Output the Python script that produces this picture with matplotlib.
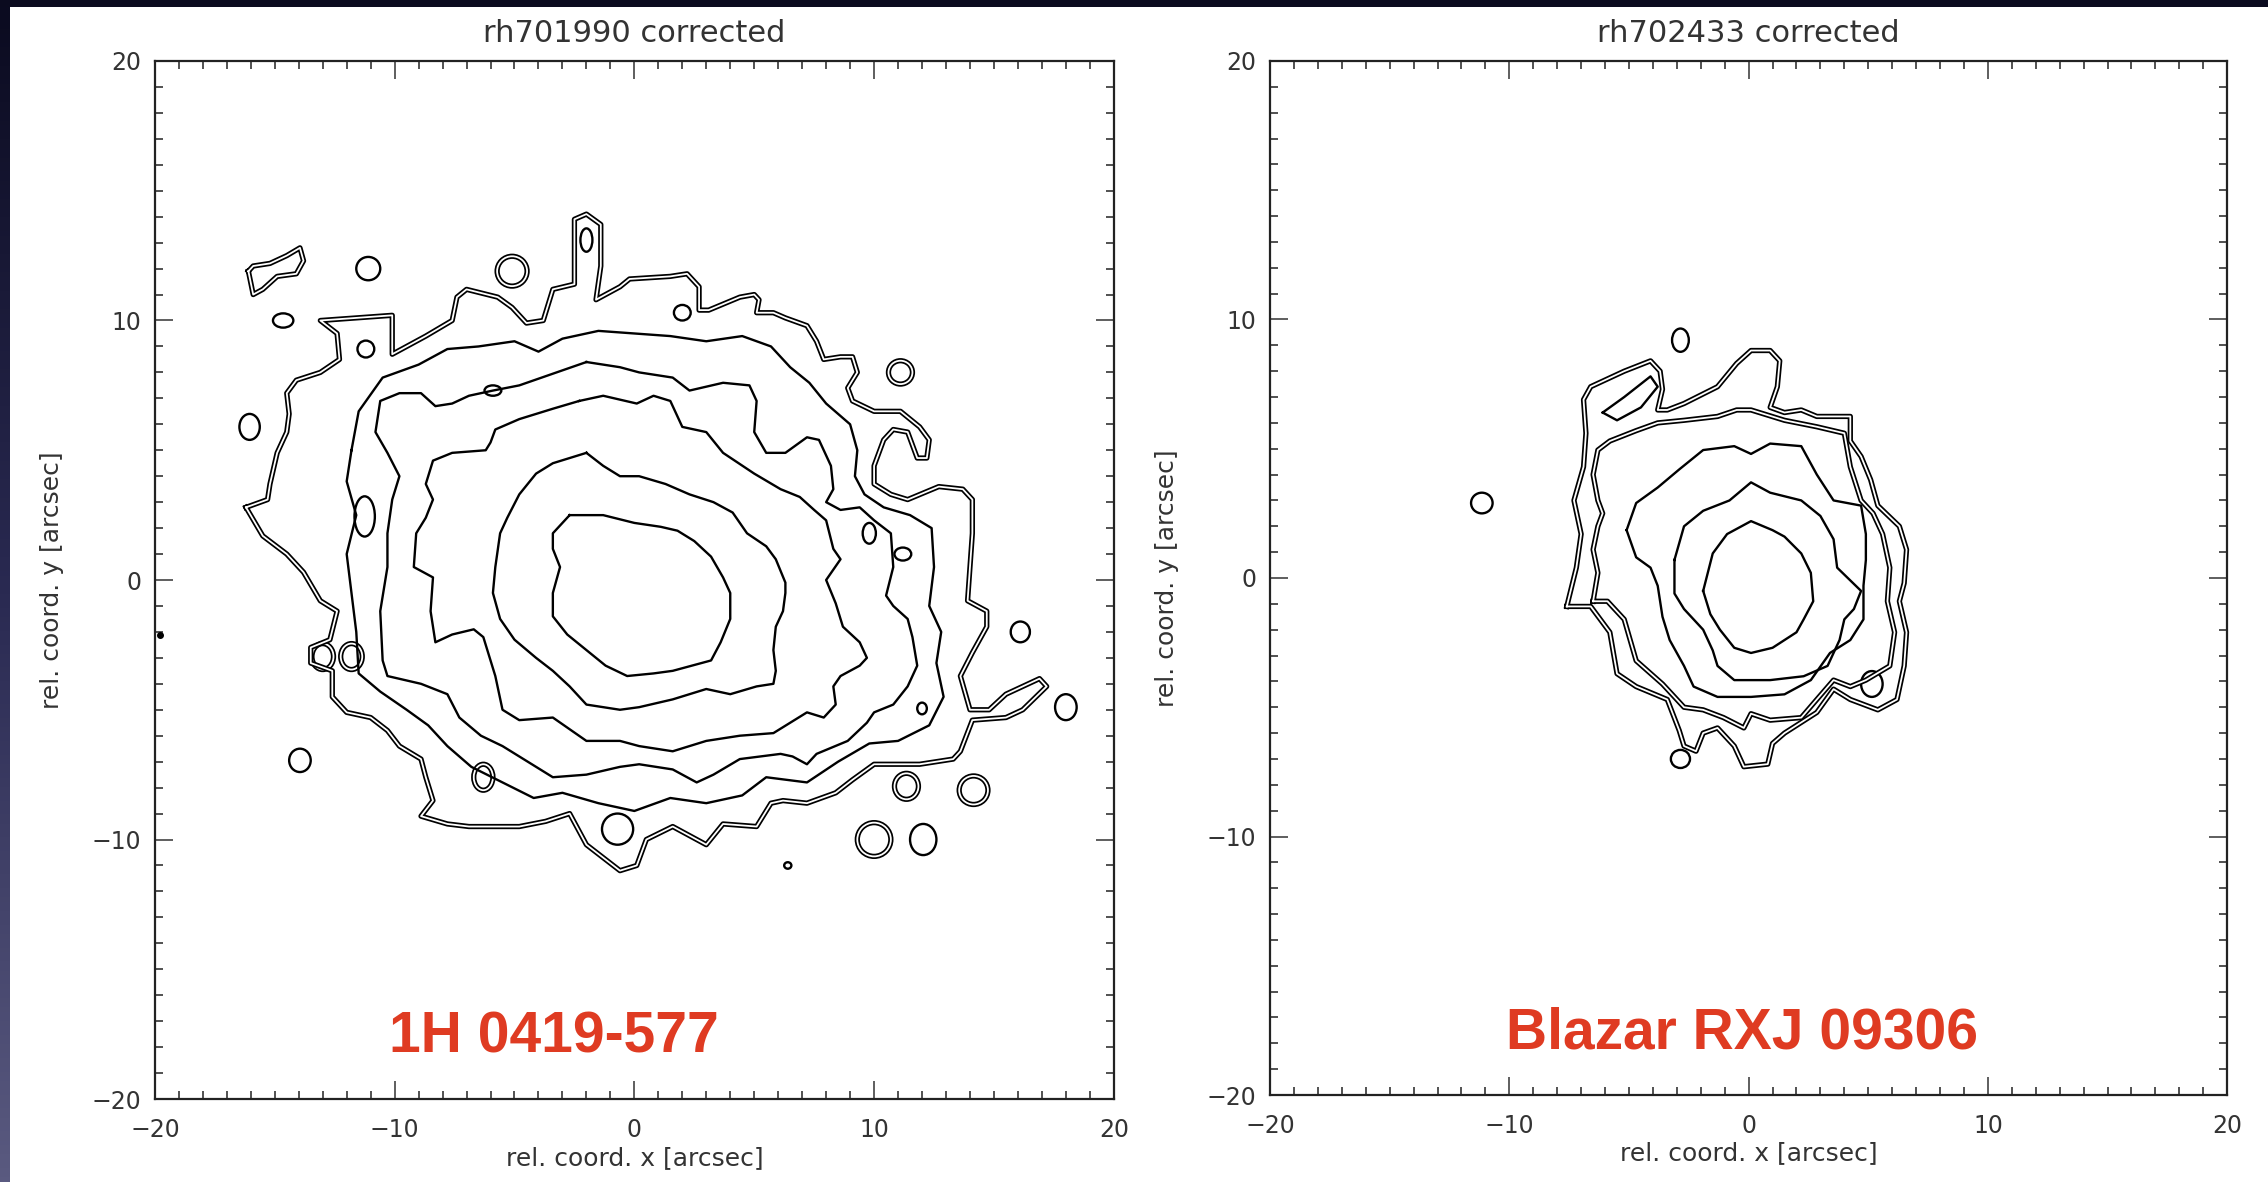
import numpy as np
import matplotlib.pyplot as plt
from matplotlib.patches import Ellipse, Rectangle
from matplotlib.colors import LinearSegmentedColormap

# Surface brightness contours, relative coordinates in arcsec.
# Each contour is a closed loop of (x, y) vertices.

# ---- rh701990 (1H 0419-577) ----
LEFT_C5 = [(-2.7, 2.5), (-1.3, 2.5), (0.0, 2.2), (1.1, 2.05), (1.8, 1.9), (2.5, 1.5),
           (3.2, 0.9), (3.7, 0.1), (4.0, -0.5), (4.0, -1.5), (3.6, -2.4), (3.2, -3.1),
           (1.6, -3.5), (0.8, -3.6), (-0.3, -3.7), (-1.2, -3.3), (-2.0, -2.7), (-2.8, -2.1),
           (-3.4, -1.4), (-3.4, -0.5), (-3.1, 0.5), (-3.4, 1.2), (-3.4, 1.8)]

LEFT_C4 = [(-2.0, 4.9), (-1.3, 4.4), (-0.6, 4.0), (0.2, 4.0), (1.3, 3.7), (2.3, 3.3),
           (3.3, 3.0), (4.1, 2.6), (4.7, 1.8), (5.5, 1.3), (5.9, 0.8), (6.3, -0.1),
           (6.3, -0.5), (6.2, -1.2), (5.9, -1.8), (5.8, -2.7), (5.9, -3.5), (5.8, -4.0),
           (5.1, -4.1), (4.0, -4.4), (3.0, -4.2), (1.6, -4.6), (0.2, -4.9), (-0.6, -5.0),
           (-2.0, -4.8), (-2.7, -4.1), (-3.4, -3.5), (-4.1, -3.0), (-5.0, -2.3), (-5.6, -1.5),
           (-5.9, -0.5), (-5.8, 0.5), (-5.6, 1.8), (-5.3, 2.4), (-4.8, 3.3), (-4.1, 4.1),
           (-3.4, 4.5)]

LEFT_C3 = [(-2.3, 6.9), (-1.3, 7.1), (0.1, 6.8), (0.8, 7.1), (1.5, 6.9), (2.0, 5.9),
           (3.0, 5.7), (3.7, 4.9), (5.0, 4.1), (6.1, 3.5), (6.9, 3.2), (7.5, 2.7),
           (8.0, 2.3), (8.3, 1.2), (8.6, 0.8), (8.0, 0.0), (8.4, -0.9), (8.7, -1.8),
           (9.4, -2.4), (9.7, -3.0), (9.4, -3.3), (8.6, -3.7), (8.3, -4.1), (8.4, -4.8),
           (7.9, -5.3), (7.2, -5.1), (6.5, -5.5), (5.8, -5.9), (4.4, -6.0), (3.0, -6.2),
           (1.6, -6.6), (0.2, -6.4), (-0.6, -6.2), (-2.0, -6.2), (-3.4, -5.3), (-4.8, -5.4),
           (-5.5, -5.0), (-5.8, -3.7), (-6.3, -2.2), (-6.7, -1.9), (-7.6, -2.1), (-8.3, -2.4),
           (-8.5, -1.2), (-8.4, 0.1), (-9.2, 0.5), (-9.1, 1.8), (-8.7, 2.4), (-8.4, 3.1),
           (-8.7, 3.7), (-8.4, 4.6), (-7.6, 4.9), (-6.2, 5.0), (-6.0, 5.3), (-5.8, 5.8),
           (-4.8, 6.2), (-3.4, 6.6)]

LEFT_C2 = [(-2.0, 8.4), (-0.6, 8.2), (0.2, 8.0), (1.6, 7.8), (2.3, 7.3), (3.7, 7.6),
           (4.8, 7.5), (5.1, 6.9), (5.0, 5.7), (5.5, 4.9), (6.3, 4.9), (7.2, 5.5),
           (7.7, 5.4), (8.2, 4.4), (8.3, 3.5), (8.0, 3.0), (8.6, 2.7), (9.4, 2.8),
           (10.0, 2.3), (10.7, 1.8), (10.8, 0.5), (10.5, -0.6), (10.8, -1.0), (11.4, -1.5),
           (11.6, -2.2), (11.8, -3.3), (11.4, -4.1), (10.8, -4.8), (10.0, -5.1), (9.7, -5.5),
           (8.9, -6.2), (7.6, -6.7), (7.2, -7.1), (6.6, -6.8), (6.1, -6.7), (4.4, -6.9),
           (3.3, -7.5), (2.6, -7.8), (1.6, -7.3), (0.2, -7.1), (-0.6, -7.2), (-2.0, -7.5),
           (-3.4, -7.6), (-4.1, -7.2), (-5.5, -6.4), (-6.4, -6.0), (-7.3, -5.3), (-7.8, -4.4),
           (-8.9, -4.0), (-10.3, -3.7), (-10.5, -3.1), (-10.6, -1.2), (-10.3, 0.5), (-10.3, 1.8),
           (-10.1, 3.1), (-9.8, 4.0), (-10.3, 4.9), (-10.8, 5.7), (-10.6, 6.9), (-9.8, 7.2),
           (-8.9, 7.2), (-8.3, 6.7), (-7.6, 6.8), (-6.9, 7.1), (-5.9, 7.3), (-4.8, 7.5)]

LEFT_C1B = [(-11.8, 5.0), (-11.5, 6.5), (-10.5, 7.8), (-9.0, 8.3), (-7.8, 8.9), (-6.5, 9.0),
            (-5.0, 9.2), (-4.0, 8.8), (-3.0, 9.3), (-1.5, 9.6), (0.0, 9.5), (1.5, 9.4),
            (3.0, 9.2), (4.5, 9.4), (5.7, 9.0), (6.5, 8.2), (7.3, 7.6), (8.0, 6.8),
            (9.0, 6.0), (9.3, 5.0), (9.2, 4.0), (9.6, 3.3), (10.4, 2.8), (11.5, 2.5),
            (12.4, 2.0), (12.5, 0.5), (12.3, -1.0), (12.8, -2.0), (12.6, -3.2), (12.9, -4.5),
            (12.3, -5.6), (11.0, -6.2), (9.8, -6.3), (8.5, -7.0), (7.2, -7.8), (5.5, -7.6),
            (4.5, -8.3), (3.0, -8.6), (1.5, -8.4), (0.0, -8.9), (-1.5, -8.6), (-3.0, -8.2),
            (-4.2, -8.4), (-5.5, -7.8), (-6.8, -7.2), (-7.8, -6.4), (-8.6, -5.6), (-9.5, -5.0),
            (-10.6, -4.3), (-11.5, -3.6), (-11.6, -2.0), (-11.8, -0.5), (-12.0, 1.0), (-11.6, 2.5),
            (-12.0, 3.8)]

LEFT_C1 = [(-16.2, 2.8), (-15.3, 3.1), (-15.2, 3.7), (-14.9, 4.9), (-14.5, 5.7), (-14.4, 6.4),
           (-14.5, 7.2), (-14.1, 7.7), (-13.1, 8.0), (-12.3, 8.5), (-12.4, 9.5), (-13.1, 10.0),
           (-10.1, 10.2), (-10.1, 8.7), (-9.5, 9.0), (-8.7, 9.4), (-7.6, 10.0), (-7.4, 10.9),
           (-7.0, 11.2), (-5.7, 10.9), (-5.1, 10.5), (-4.5, 9.9), (-3.8, 10.0), (-3.4, 11.2),
           (-2.5, 11.4), (-2.5, 13.9), (-2.0, 14.1), (-1.4, 13.7), (-1.4, 12.1), (-1.6, 10.8),
           (-0.6, 11.3), (-0.2, 11.6), (1.5, 11.7), (2.2, 11.8), (2.7, 11.3), (2.7, 10.4),
           (3.1, 10.4), (4.4, 10.9), (5.0, 11.0), (5.2, 10.8), (5.1, 10.3), (5.8, 10.3),
           (6.3, 10.1), (7.2, 9.8), (7.6, 9.2), (7.9, 8.5), (8.6, 8.6), (9.1, 8.6),
           (9.3, 8.0), (8.9, 7.4), (9.1, 6.9), (10.0, 6.5), (11.1, 6.5), (11.9, 5.9),
           (12.3, 5.4), (12.2, 4.7), (11.8, 4.7), (11.4, 5.7), (10.8, 5.8), (10.4, 5.4),
           (10.0, 4.4), (10.0, 3.7), (10.7, 3.3), (11.4, 3.1), (12.7, 3.6), (13.7, 3.5),
           (14.1, 3.1), (14.1, 1.8), (14.0, 0.5), (13.9, -0.8), (14.7, -1.2), (14.7, -1.8),
           (14.1, -2.8), (13.6, -3.7), (14.0, -5.0), (14.8, -5.0), (15.5, -4.4), (16.9, -3.8),
           (17.2, -4.1), (16.2, -5.0), (15.5, -5.3), (14.1, -5.4), (13.6, -6.6), (13.3, -6.9),
           (11.9, -7.1), (10.0, -7.1), (9.1, -7.7), (8.4, -8.2), (7.2, -8.6), (6.2, -8.5),
           (5.7, -8.6), (5.1, -9.5), (3.7, -9.4), (3.0, -10.2), (1.6, -9.5), (0.5, -10.0),
           (0.1, -11.0), (-0.6, -11.2), (-2.0, -10.2), (-2.7, -9.0), (-3.7, -9.3), (-4.8, -9.5),
           (-6.9, -9.5), (-7.8, -9.4), (-8.9, -9.1), (-8.4, -8.5), (-8.7, -7.6), (-8.9, -6.9),
           (-9.8, -6.4), (-10.3, -5.8), (-11.0, -5.3), (-12.0, -5.1), (-12.6, -4.5), (-12.6, -3.5),
           (-13.5, -3.2), (-13.5, -2.6), (-12.7, -2.3), (-12.4, -1.2), (-13.1, -0.8), (-13.8, 0.3),
           (-14.5, 1.0), (-15.5, 1.7)]

LEFT_ISLAND = [(-16.1, 11.9), (-15.9, 11.0), (-15.5, 11.2), (-14.9, 11.7), (-14.1, 11.8),
               (-13.8, 12.3), (-13.95, 12.8), (-14.5, 12.5), (-15.2, 12.2), (-15.9, 12.1)]

# isolated knots: x, y, width, height, double ring
LEFT_KNOTS = [(-11.1, 12.0, 1.0, 0.9, False), (-14.65, 10.0, 0.85, 0.55, False),
              (-16.05, 5.9, 0.85, 1.0, False), (-11.2, 8.9, 0.7, 0.65, False),
              (-5.1, 11.9, 1.25, 1.15, True), (-2.0, 13.1, 0.5, 0.9, False),
              (-5.9, 7.3, 0.7, 0.4, False), (-11.25, 2.45, 0.85, 1.55, False),
              (2.0, 10.3, 0.7, 0.6, False), (11.1, 8.0, 1.0, 0.9, True),
              (9.8, 1.8, 0.55, 0.8, False), (11.2, 1.0, 0.7, 0.5, False),
              (16.1, -2.0, 0.8, 0.8, False), (18.0, -4.9, 0.9, 1.0, False),
              (12.0, -4.95, 0.4, 0.45, False), (11.35, -7.95, 1.0, 1.0, True),
              (14.15, -8.1, 1.2, 1.1, True), (10.0, -10.0, 1.4, 1.3, True),
              (12.05, -10.0, 1.1, 1.2, False), (6.4, -11.0, 0.3, 0.25, False),
              (-13.95, -6.95, 0.9, 0.9, False), (-13.0, -2.95, 0.9, 1.0, True),
              (-11.8, -2.95, 0.9, 1.0, True), (-6.3, -7.6, 0.8, 1.0, True),
              (-0.7, -9.6, 1.3, 1.2, False)]

# ---- rh702433 (Blazar RXJ 09306) ----
RIGHT_C5 = [(-1.9, -0.5), (-1.5, 0.95), (-0.9, 1.7), (0.1, 2.2), (1.0, 1.85), (1.5, 1.6),
            (2.2, 0.95), (2.6, 0.2), (2.7, -0.9), (2.3, -1.6), (2.0, -2.1), (1.0, -2.7),
            (0.1, -2.9), (-0.6, -2.7), (-1.2, -2.0), (-1.6, -1.4)]

RIGHT_C4 = [(-3.1, 0.7), (-2.7, 2.0), (-1.9, 2.6), (-0.8, 3.0), (0.1, 3.7), (0.9, 3.3),
            (2.2, 3.0), (3.0, 2.4), (3.55, 1.5), (3.7, 0.4), (4.7, -0.5), (4.4, -1.2),
            (4.0, -1.6), (3.8, -2.4), (3.3, -3.4), (2.3, -3.8), (0.9, -3.95), (-0.6, -3.95),
            (-1.3, -3.4), (-1.5, -2.8), (-1.9, -2.0), (-2.7, -1.2), (-3.1, -0.6)]

RIGHT_C3 = [(-5.1, 1.85), (-4.7, 2.9), (-3.8, 3.5), (-2.9, 4.2), (-1.9, 4.95), (-0.6, 5.1),
            (0.1, 4.8), (0.9, 5.2), (2.2, 5.1), (2.85, 4.0), (3.55, 3.0), (4.7, 2.8),
            (4.9, 1.7), (4.9, 0.7), (4.8, -0.3), (4.8, -1.6), (4.25, -2.4), (3.4, -2.9),
            (2.6, -3.95), (1.5, -4.5), (0.1, -4.6), (-1.3, -4.6), (-2.3, -4.2), (-2.7, -3.4),
            (-3.3, -2.4), (-3.6, -1.5), (-3.8, -0.3), (-4.1, 0.4), (-4.7, 0.8)]

RIGHT_C2 = [(-6.5, -0.9), (-6.3, 0.2), (-6.5, 1.1), (-6.3, 2.0), (-6.1, 2.5), (-6.3, 3.0),
            (-6.5, 4.0), (-6.3, 4.95), (-5.8, 5.3), (-4.7, 5.7), (-3.8, 6.0), (-2.7, 6.1),
            (-1.3, 6.25), (-0.5, 6.5), (0.1, 6.5), (1.5, 6.1), (2.85, 5.85), (4.0, 5.6),
            (4.25, 4.3), (4.7, 3.0), (5.2, 2.5), (5.6, 1.7), (5.9, 0.4), (5.8, -0.9),
            (6.1, -2.1), (5.9, -3.4), (4.9, -3.95), (4.25, -4.2), (3.55, -3.95), (2.85, -4.7),
            (2.2, -5.4), (0.9, -5.5), (0.1, -5.25), (-0.2, -5.8), (-1.05, -5.4), (-1.9, -5.1),
            (-2.7, -5.0), (-3.6, -4.1), (-4.7, -3.2), (-5.2, -1.6), (-5.9, -0.9)]

RIGHT_C1 = [(-7.6, -1.1), (-7.2, 0.4), (-7.0, 1.7), (-7.3, 3.0), (-6.9, 4.3), (-6.8, 5.6),
            (-6.9, 6.9), (-6.6, 7.4), (-5.2, 8.0), (-4.1, 8.4), (-3.7, 8.0), (-3.6, 7.3),
            (-3.8, 6.5), (-3.4, 6.5), (-2.7, 6.75), (-1.3, 7.4), (-0.5, 8.3), (0.1, 8.8),
            (0.9, 8.8), (1.3, 8.4), (1.2, 7.4), (0.9, 6.6), (1.5, 6.4), (2.2, 6.5),
            (2.85, 6.25), (4.25, 6.25), (4.25, 5.3), (4.7, 4.7), (5.1, 3.8), (5.4, 2.8),
            (6.3, 2.0), (6.6, 1.1), (6.5, -0.2), (6.3, -0.9), (6.6, -2.1), (6.5, -3.4),
            (6.2, -4.7), (5.4, -5.1), (4.25, -4.7), (3.55, -4.3), (2.85, -5.2), (1.5, -6.0),
            (1.0, -6.4), (0.8, -7.2), (-0.2, -7.3), (-0.6, -6.5), (-1.3, -5.8), (-1.9, -6.0),
            (-2.2, -6.7), (-2.7, -6.5), (-2.9, -5.9), (-3.4, -4.7), (-4.7, -4.2), (-5.5, -3.7),
            (-5.8, -2.1), (-6.6, -1.1)]

RIGHT_LOBE = [(-6.1, 6.4), (-5.2, 7.0), (-4.1, 7.8), (-3.8, 7.4), (-4.5, 6.6), (-5.5, 6.1)]

RIGHT_KNOTS = [(-2.85, 9.2, 0.7, 0.9, False), (-11.15, 2.9, 0.9, 0.8, False),
               (5.15, -4.1, 0.9, 1.0, False), (-2.85, -7.0, 0.8, 0.7, False)]

TITLES = ["rh701990 corrected", "rh702433 corrected"]
SOURCES = ["1H 0419-577", "Blazar RXJ 09306"]
SOURCE_POS = [(0.416, 0.059), (0.493, 0.059)]
TICKS = [-20, -10, 0, 10, 20]

LW = 1.7
INK = '#333333'


def draw_loop(ax, pts, double=False):
    xs = [p[0] for p in pts] + [pts[0][0]]
    ys = [p[1] for p in pts] + [pts[0][1]]
    if double:
        ax.plot(xs, ys, color='black', lw=3.8, solid_joinstyle='round')
        ax.plot(xs, ys, color='white', lw=1.3, solid_joinstyle='round')
    else:
        ax.plot(xs, ys, color='black', lw=LW, solid_joinstyle='round')


def draw_knots(ax, knots):
    for x, y, w, h, double in knots:
        if double:
            ax.add_patch(Ellipse((x, y), w, h, fill=False, ec='black', lw=3.8))
            ax.add_patch(Ellipse((x, y), w, h, fill=False, ec='white', lw=1.3))
        else:
            ax.add_patch(Ellipse((x, y), w, h, fill=False, ec='black', lw=LW))


def style_axes(ax, title, source, pos):
    ax.set_xlim(-20, 20)
    ax.set_ylim(-20, 20)
    ax.set_xticks(TICKS)
    ax.set_yticks(TICKS)
    ax.set_xticks(np.arange(-20, 21, 1), minor=True)
    ax.set_yticks(np.arange(-20, 21, 1), minor=True)
    ax.tick_params(which='both', direction='in', top=True, right=True, width=1.1,
                   color='#222222')
    ax.tick_params(which='major', length=13, labelsize=17, colors=INK)
    ax.tick_params(which='minor', length=5.5)
    ax.tick_params(axis='x', which='major', pad=14)
    ax.tick_params(axis='y', which='major', pad=10)
    for sp in ax.spines.values():
        sp.set_linewidth(1.6)
        sp.set_color('#222222')
    ax.set_title(title, fontsize=22, color=INK, pad=14)
    ax.set_xlabel("rel. coord. x [arcsec]", fontsize=18, color=INK)
    ax.set_ylabel("rel. coord. y [arcsec]", fontsize=18, color=INK)
    ax.xaxis.set_label_coords(0.5, -0.045)
    ax.yaxis.set_label_coords(-0.095, 0.5)
    ax.text(pos[0], pos[1], source, transform=ax.transAxes, ha='center', va='center',
            fontsize=41, fontweight='bold', color='#df3b22', family='Liberation Sans')


fig = plt.figure(figsize=(22.68, 11.82), dpi=100)
fig.patch.set_facecolor('#0b0b1f')

# white slide area with a graded strip down the left edge
fig.add_artist(Rectangle((0.0044, 0), 1 - 0.0044, 1 - 0.0059, transform=fig.transFigure,
                         facecolor='white', edgecolor='none', zorder=0))
strip = fig.add_axes([0, 0, 0.0044, 1 - 0.0059])
grad = np.linspace(0, 1, 256).reshape(-1, 1)
edge_cmap = LinearSegmentedColormap.from_list('edge', ['#0b0b20', '#2a2a52', '#5a5a80'])
strip.imshow(grad, aspect='auto', cmap=edge_cmap, origin='upper')
strip.set_axis_off()

ax1 = fig.add_axes([0.0683, 0.0702, 0.4228, 0.8782])
ax2 = fig.add_axes([0.5600, 0.0736, 0.4220, 0.8748])

draw_loop(ax1, LEFT_C5)
draw_loop(ax1, LEFT_C4)
draw_loop(ax1, LEFT_C3)
draw_loop(ax1, LEFT_C2)
draw_loop(ax1, LEFT_C1B)
draw_loop(ax1, LEFT_C1, double=True)
draw_loop(ax1, LEFT_ISLAND, double=True)
draw_knots(ax1, LEFT_KNOTS)
ax1.plot([-19.8], [-2.1], 'o', color='black', ms=4)

draw_loop(ax2, RIGHT_C5)
draw_loop(ax2, RIGHT_C4)
draw_loop(ax2, RIGHT_C3)
draw_loop(ax2, RIGHT_C2, double=True)
draw_loop(ax2, RIGHT_C1, double=True)
draw_loop(ax2, RIGHT_LOBE)
draw_knots(ax2, RIGHT_KNOTS)

style_axes(ax1, TITLES[0], SOURCES[0], SOURCE_POS[0])
style_axes(ax2, TITLES[1], SOURCES[1], SOURCE_POS[1])

fig.savefig('out.png', dpi=100, facecolor=fig.get_facecolor())
